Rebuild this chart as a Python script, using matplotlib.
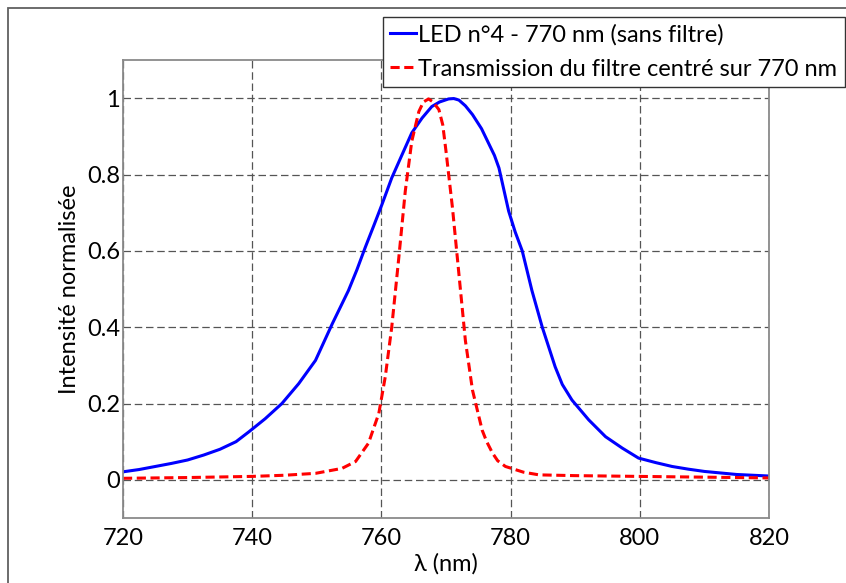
import matplotlib
matplotlib.use("Agg")
import matplotlib.pyplot as plt
from matplotlib.patches import Rectangle

plt.rcParams['font.family'] = ['Lato', 'DejaVu Sans']

# LED spectrum (blue)
led_wl = [720, 722.5, 725, 727.5, 730, 732.5, 735, 737.5, 739.5, 742, 744.6, 747.2, 749.8,
          752.4, 754.9, 756.2, 757.5, 758.8, 760.1, 761.6, 763.2, 764.7, 766.3, 767.8, 769.0,
          770.4, 771.2, 772.0, 773.0, 774.1, 775.5, 776.7, 777.5, 778.2, 779.7, 780.7,
          781.8, 783.3, 784.9, 786.9, 788.0, 789.5, 792.1, 794.7, 797.3, 799.8, 802.5,
          805, 807.5, 810, 812.5, 815, 817.5, 820]
led_int = [0.021, 0.027, 0.035, 0.043, 0.052, 0.065, 0.080, 0.100, 0.126, 0.160, 0.200, 0.252, 0.313,
           0.409, 0.496, 0.550, 0.609, 0.665, 0.722, 0.791, 0.852, 0.909, 0.948, 0.978, 0.990,
           0.998, 0.999, 0.995, 0.980, 0.957, 0.920, 0.878, 0.850, 0.817, 0.704, 0.650,
           0.600, 0.496, 0.400, 0.296, 0.250, 0.209, 0.157, 0.113, 0.083, 0.057, 0.045,
           0.035, 0.028, 0.022, 0.018, 0.014, 0.012, 0.010]

# Filter transmission (red dashed)
filt_wl = [720, 730, 740, 745, 749.8, 753.9, 756.0, 758.0, 759.6, 760.6, 761.6, 762.7, 763.7,
           764.7, 765.8, 766.5, 767.3, 768.0, 768.9, 769.5, 770.0, 771.0, 772.0, 773.0, 774.1,
           775.6, 776.3, 777.2, 778.0, 779.2, 782.0, 784.4, 790, 799.8, 810, 820]
filt_int = [0.004, 0.006, 0.009, 0.012, 0.017, 0.030, 0.048, 0.096, 0.174, 0.270, 0.400, 0.583, 0.757,
            0.887, 0.965, 0.990, 0.998, 0.990, 0.970, 0.930, 0.861, 0.713, 0.539, 0.365, 0.235,
            0.130, 0.100, 0.070, 0.050, 0.035, 0.020, 0.013, 0.011, 0.009, 0.007, 0.005]

xticks = [720, 740, 760, 780, 800, 820]
yticks = [0, 0.2, 0.4, 0.6, 0.8, 1]
ytick_labels = ['0', '0.2', '0.4', '0.6', '0.8', '1']

fig = plt.figure(figsize=(8.46, 5.83), dpi=100)
ax = fig.add_axes([123/846, 1-518/583, (769-123)/846, (518-60)/583])

ax.plot(led_wl, led_int, color='#0000ff', lw=2.2, label='LED n°4 - 770 nm (sans filtre)')
ax.plot(filt_wl, filt_int, color='#ff0000', lw=2.2, ls=(0, (3, 1.5)),
        label='Transmission du filtre centré sur 770 nm')

ax.set_xlim(720, 820)
ax.set_ylim(-0.1, 1.1)
ax.set_xticks(xticks)
ax.set_yticks(yticks)
ax.set_yticklabels(ytick_labels)
ax.tick_params(length=0, labelsize=17, colors='black')
ax.tick_params(axis='y', pad=2)
ax.tick_params(axis='x', pad=7)
ax.grid(True, color='#555555', lw=0.9, ls=(0, (6, 3)))
for s in ax.spines.values():
    s.set_color('#8a8a8a')
    s.set_linewidth(1.3)

ax.set_xlabel('λ (nm)', fontsize=17, labelpad=3)
ax.set_ylabel('Intensité normalisée', fontsize=17, va='center')
ax.yaxis.set_label_coords((70 - 123) / 646, 0.5)

# figure border
fig.patches.append(Rectangle((8/846, -0.1), 1.2, 1 - 8/583 + 0.1, transform=fig.transFigure,
                             fill=False, edgecolor='#606060', lw=1.3, zorder=0))

leg = fig.legend(loc='upper left', bbox_to_anchor=(383/846, 1-17/583), fontsize=17,
                 frameon=True, fancybox=False, edgecolor='#333333', framealpha=1,
                 handlelength=1.1, handletextpad=0.1, borderpad=0.3, labelspacing=0.55,
                 borderaxespad=0)
leg.get_frame().set_linewidth(1.0)

fig.savefig('out.png', dpi=100)
